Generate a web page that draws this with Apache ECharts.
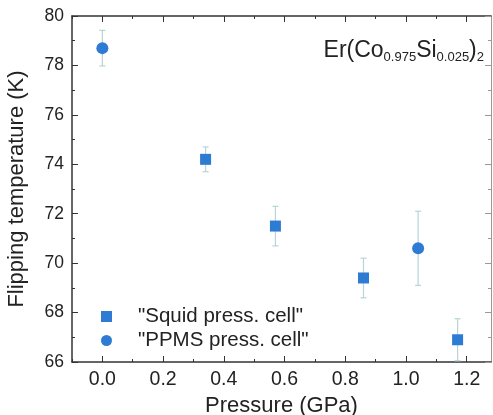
<!DOCTYPE html>
<html>
<head>
<meta charset="utf-8">
<script src="https://cdn.jsdelivr.net/npm/echarts@6/dist/echarts.min.js"></script>
<style>
  html, body { margin: 0; padding: 0; background: #fff; }
  #chart { width: 493px; height: 415px; }
</style>
</head>
<body>
<div id="chart"></div>
<script>
// Flipping temperature of Er(Co0.975Si0.025)2 versus applied pressure
const squidPressure = [0.34, 0.57, 0.86, 1.17];
const squidTemp     = [74.2, 71.5, 69.4, 66.9];
const squidErr      = [0.5, 0.8, 0.8, 0.85];

const ppmsPressure = [0.0, 1.04];
const ppmsTemp     = [78.7, 70.6];
const ppmsErr      = [0.72, 1.5];

const xMajorTicks = [0.0, 0.2, 0.4, 0.6, 0.8, 1.0, 1.2];
const xMinorTicks = [-0.1, 0.1, 0.3, 0.5, 0.7, 0.9, 1.1];

const seriesNames = ['"Squid press. cell"', '"PPMS press. cell"'];

const FONT = '"Liberation Sans", Arial, sans-serif';
const BLUE = '#2d7bd3';
const AXIS = '#333';
const TEXT = '#222';

const chart = echarts.init(document.getElementById('chart'), null, { renderer: 'canvas' });

function errorRows(xs, ys, es) {
  return xs.map((x, i) => [x, ys[i] - es[i], ys[i] + es[i]]);
}

function renderErrorBar(params, api) {
  const x = api.value(0);
  const lo = api.coord([x, api.value(1)]);
  const hi = api.coord([x, api.value(2)]);
  const cap = 3;
  const style = { stroke: '#b9d3d6', lineWidth: 1.2 };
  return {
    type: 'group',
    children: [
      { type: 'line', shape: { x1: lo[0], y1: lo[1], x2: hi[0], y2: hi[1] }, style },
      { type: 'line', shape: { x1: lo[0] - cap, y1: lo[1], x2: lo[0] + cap, y2: lo[1] }, style },
      { type: 'line', shape: { x1: hi[0] - cap, y1: hi[1], x2: hi[0] + cap, y2: hi[1] }, style }
    ]
  };
}

const xBase = { type: 'value', min: -0.1, max: 1.28, splitLine: { show: false } };

const option = {
  animation: false,
  backgroundColor: '#fff',
  grid: { left: 72, right: 2, top: 16, bottom: 53, containLabel: false, outerBoundsMode: 'none' },
  title: {
    text: '{n|Er(Co}{s|0.975}{n|Si}{s|0.025}{n|)}{s|2}',
    right: 4,
    top: 34,
    textStyle: {
      rich: {
        n: { fontFamily: FONT, fontSize: 23, fontWeight: 'normal', color: TEXT, lineHeight: 25, verticalAlign: 'top' },
        s: { fontFamily: FONT, fontSize: 13, fontWeight: 'normal', color: TEXT, lineHeight: 14, verticalAlign: 'bottom', padding: [16, 0, 0, 0] }
      }
    }
  },
  legend: {
    data: [
      { name: seriesNames[0], icon: 'rect' },
      { name: seriesNames[1], icon: 'circle' }
    ],
    orient: 'vertical',
    left: 96,
    top: 301,
    itemWidth: 11,
    itemHeight: 11,
    itemGap: 3,
    textStyle: { fontFamily: FONT, fontSize: 20.5, color: TEXT, padding: [0, 0, 0, 21] }
  },
  xAxis: [
    Object.assign({}, xBase, {
      position: 'bottom',
      name: 'Pressure (GPa)',
      nameLocation: 'middle',
      nameGap: 25,
      nameTextStyle: { fontFamily: FONT, fontSize: 22, color: TEXT },
      axisLine: { show: true, onZero: false, lineStyle: { color: AXIS, width: 1.5 } },
      axisTick: { show: true, inside: true, length: 6, customValues: xMajorTicks, lineStyle: { color: AXIS } },
      axisLabel: { show: true, customValues: xMajorTicks, margin: 8, fontFamily: FONT, fontSize: 19.5, color: TEXT,
                   formatter: v => v.toFixed(1) }
    }),
    Object.assign({}, xBase, {
      position: 'bottom',
      axisLine: { show: false, onZero: false },
      axisTick: { show: true, inside: true, length: 3, customValues: xMinorTicks, lineStyle: { color: AXIS } },
      axisLabel: { show: false }
    }),
    Object.assign({}, xBase, {
      position: 'top',
      axisLine: { show: true, onZero: false, lineStyle: { color: AXIS, width: 1.5 } },
      axisTick: { show: true, inside: true, length: 6, customValues: xMajorTicks, lineStyle: { color: AXIS } },
      axisLabel: { show: false }
    }),
    Object.assign({}, xBase, {
      position: 'top',
      axisLine: { show: false, onZero: false },
      axisTick: { show: true, inside: true, length: 3, customValues: xMinorTicks, lineStyle: { color: AXIS } },
      axisLabel: { show: false }
    })
  ],
  yAxis: [
    {
      type: 'value', min: 66, max: 80, interval: 2, position: 'left',
      name: 'Flipping temperature (K)',
      nameLocation: 'middle',
      nameGap: 44,
      nameTextStyle: { fontFamily: FONT, fontSize: 22, color: TEXT },
      axisLine: { show: true, onZero: false, lineStyle: { color: AXIS, width: 1.5 } },
      axisTick: { show: true, inside: true, length: 6, lineStyle: { color: AXIS } },
      minorTick: { show: true, splitNumber: 2, length: 3, lineStyle: { color: AXIS } },
      axisLabel: { margin: 8, fontFamily: FONT, fontSize: 17.5, color: TEXT },
      splitLine: { show: false }
    },
    {
      type: 'value', min: 66, max: 80, interval: 2, position: 'right',
      axisLine: { show: true, onZero: false, lineStyle: { color: '#999', width: 1 } },
      axisTick: { show: true, inside: true, length: 6, lineStyle: { color: '#999' } },
      minorTick: { show: true, splitNumber: 2, length: 3, lineStyle: { color: '#999' } },
      axisLabel: { show: false },
      splitLine: { show: false }
    }
  ],
  series: [
    {
      type: 'custom', name: 'squidErr', xAxisIndex: 0, yAxisIndex: 0,
      renderItem: renderErrorBar, encode: { x: 0, y: [1, 2] },
      data: errorRows(squidPressure, squidTemp, squidErr), z: 1, silent: true
    },
    {
      type: 'custom', name: 'ppmsErr', xAxisIndex: 0, yAxisIndex: 0,
      renderItem: renderErrorBar, encode: { x: 0, y: [1, 2] },
      data: errorRows(ppmsPressure, ppmsTemp, ppmsErr), z: 1, silent: true
    },
    {
      type: 'scatter', name: seriesNames[0], xAxisIndex: 0, yAxisIndex: 0,
      symbol: 'rect', symbolSize: 11,
      itemStyle: { color: BLUE, opacity: 1 },
      data: squidPressure.map((p, i) => [p, squidTemp[i]]), z: 3
    },
    {
      type: 'scatter', name: seriesNames[1], xAxisIndex: 0, yAxisIndex: 0,
      symbol: 'circle', symbolSize: 12,
      itemStyle: { color: BLUE, opacity: 1 },
      data: ppmsPressure.map((p, i) => [p, ppmsTemp[i]]), z: 3
    }
  ]
};

chart.setOption(option);
</script>
</body>
</html>
